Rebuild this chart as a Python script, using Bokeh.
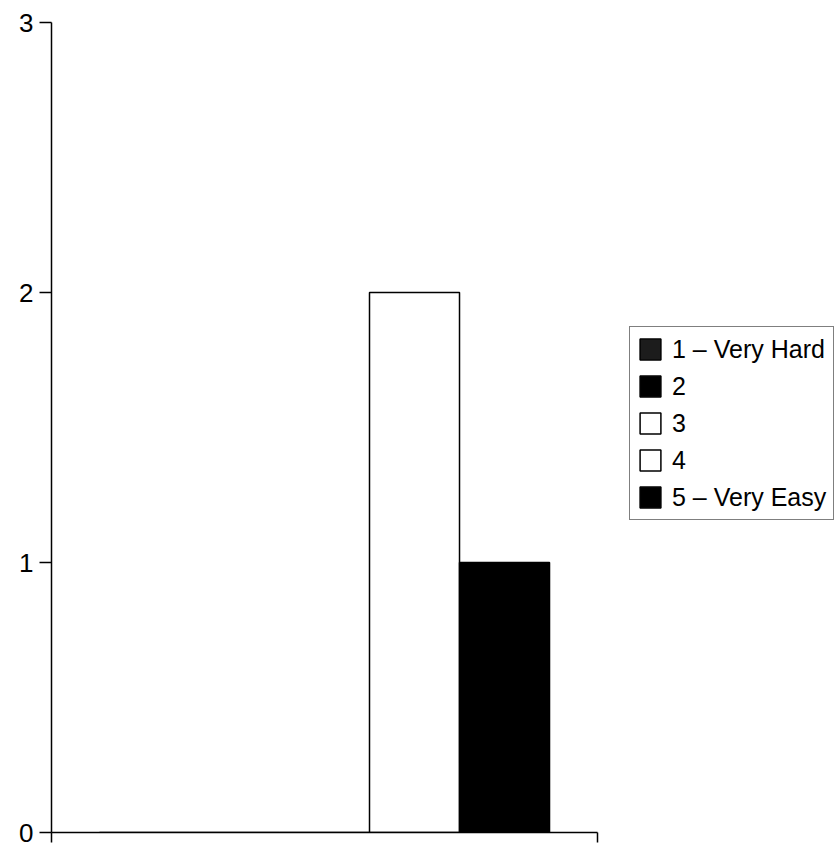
from bokeh.plotting import figure
from bokeh.models import ColumnDataSource, Range1d, FixedTicker, Legend, LegendItem
from bokeh.embed import file_html
from bokeh.resources import INLINE

series = ["1 – Very Hard", "2", "3", "4", "5 – Very Easy"]
counts = [0, 0, 0, 2, 1]
colors = ["#1c1c1c", "#000000", "#ffffff", "#ffffff", "#000000"]
y_ticks = [0, 1, 2, 3]

FONT = "Liberation Sans"

idx = list(range(len(series)))
src = ColumnDataSource(dict(x=idx, top=counts, series=series, color=colors))

pad = 0.533
p = figure(frame_width=546, frame_height=810,
           x_range=Range1d(-0.5 - pad, len(series) - 0.5 + pad),
           y_range=Range1d(0, 3),
           output_backend="svg", toolbar_location=None,
           min_border_left=51, min_border_top=22,
           min_border_right=241, min_border_bottom=16)
p.outline_line_color = None
p.xgrid.visible = False
p.ygrid.visible = False
p.background_fill_color = "white"
p.border_fill_color = "white"

r = p.vbar(x="x", top="top", bottom=0, width=1.0, source=src,
           fill_color="color", line_color="black", line_width=1.5)

# y axis
ya = p.yaxis[0]
ya.ticker = FixedTicker(ticks=y_ticks)
ya.minor_tick_line_color = None
ya.major_tick_in = 0
ya.major_tick_out = 12
ya.major_label_standoff = 6
ya.major_label_text_font = FONT
ya.major_label_text_font_size = "26px"
ya.major_label_text_color = "black"
ya.axis_line_width = 1.5
ya.major_tick_line_width = 1.5
ya.axis_line_color = "black"
ya.major_tick_line_color = "black"

# x axis
xa = p.xaxis[0]
xa.ticker = FixedTicker(ticks=[-0.5 - pad, len(series) - 0.5 + pad])
xa.minor_tick_line_color = None
xa.major_tick_in = 0
xa.major_tick_out = 10
xa.major_label_overrides = {-0.5 - pad: " ", len(series) - 0.5 + pad: " "}
xa.major_label_text_font_size = "1px"
xa.major_label_standoff = 0
xa.axis_line_width = 1.5
xa.major_tick_line_width = 1.5
xa.axis_line_color = "black"
xa.major_tick_line_color = "black"

items = [LegendItem(label=s, renderers=[r], index=i) for i, s in enumerate(series)]
lg = Legend(items=items, location=(32, 312))
lg.label_text_font = FONT
lg.label_text_font_size = "25px"
lg.label_text_color = "black"
lg.glyph_width = 26
lg.glyph_height = 26
lg.label_height = 30
lg.label_standoff = 9
lg.padding = 7
lg.spacing = 7
lg.margin = 0
lg.border_line_color = "black"
lg.border_line_width = 1.5
lg.background_fill_alpha = 1.0
p.add_layout(lg, "right")

open("out.html", "w").write(file_html(p, INLINE))
